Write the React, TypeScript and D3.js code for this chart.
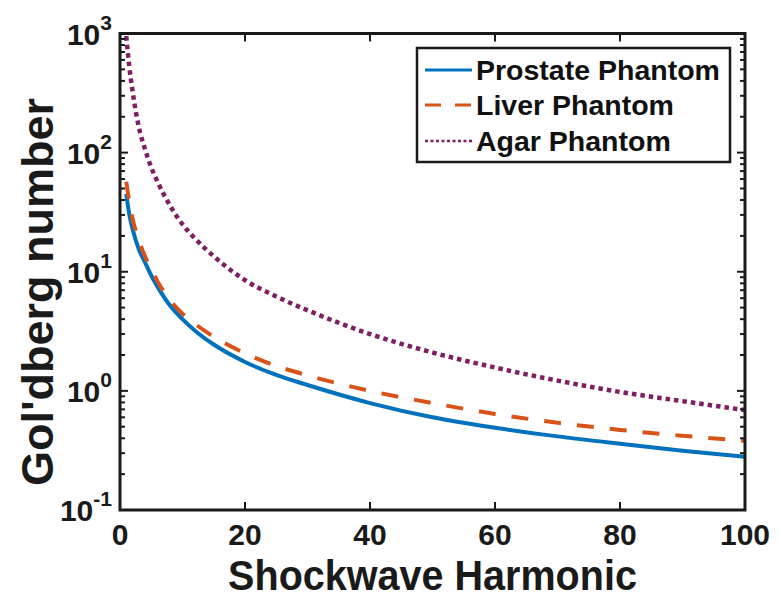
import React from "react";
import * as d3 from "d3";

const harmonics = [1, 1.5, 2, 3, 4, 5, 6, 8, 10, 12, 15, 20, 25, 30, 40, 50, 60, 70, 80, 90, 100];
const prostate = [45, 30, 23, 15.5, 12, 9.3, 7.5, 5.2, 4.0, 3.2, 2.45, 1.75, 1.36, 1.12, 0.79, 0.6, 0.49, 0.415, 0.36, 0.315, 0.28];
const liver = [57, 38, 28, 18.5, 13.5, 10.5, 8.3, 5.8, 4.45, 3.65, 2.85, 2.07, 1.62, 1.35, 1.0, 0.79, 0.64, 0.54, 0.47, 0.42, 0.38];
const agar = [950, 520, 330, 165, 107, 75, 57, 36, 25, 19, 13.5, 8.5, 6.2, 4.75, 3.0, 2.1, 1.57, 1.22, 0.98, 0.82, 0.69];

const seriesNames = ["Prostate Phantom", "Liver Phantom", "Agar Phantom"];
const seriesColors = ["#0072BD", "#D95319", "#7E1F62"];
const xTicks = [0, 20, 40, 60, 80, 100];
const yExponents = [-1, 0, 1, 2, 3];
const xLabel = "Shockwave Harmonic";
const yLabel = "Gol'dberg number";

const W = 779;
const H = 598;
const M = { left: 120, right: 745, top: 33.5, bottom: 510 };
const FONT = "'Liberation Sans', Arial, Helvetica, sans-serif";
const INK = "#1a1a1a";

export default function App() {
  const x = d3.scaleLinear().domain([0, 100]).range([M.left, M.right]);
  const y = d3.scaleLog().domain([0.1, 1000]).range([M.bottom, M.top]);
  const data = [prostate, liver, agar];
  const line = d3
    .line<[number, number]>()
    .x((d) => x(d[0]))
    .y((d) => y(d[1]))
    .curve(d3.curveMonotoneX);

  const dashes = [undefined, "17,16", "4.5,4"];
  const widths = [4, 4, 4.5];

  const minor: number[] = [];
  for (let e = -1; e < 3; e++) {
    for (let k = 2; k <= 9; k++) minor.push(k * Math.pow(10, e));
  }

  const legendX = 417;
  const legendY = 48;
  const legendW = 313;
  const legendH = 114;
  const rowY = [70, 105, 141];
  const xLabelCx = (M.left + M.right) / 2;

  return (
    <svg width={W} height={H} style={{ position: "absolute", left: 0, top: 0, background: "#fff" }}>
      <rect x={0} y={0} width={W} height={H} fill="#fff" />
      <defs>
        <clipPath id="plotclip">
          <rect x={M.left} y={M.top} width={M.right - M.left} height={M.bottom - M.top} />
        </clipPath>
      </defs>
      <g clipPath="url(#plotclip)">
        {data.map((vals, i) => (
          <path
            key={i}
            d={line(harmonics.map((h, j) => [h, vals[j]] as [number, number])) || ""}
            fill="none"
            stroke={seriesColors[i]}
            strokeWidth={widths[i]}
            strokeDasharray={dashes[i]}
            strokeLinecap="butt"
          />
        ))}
      </g>
      {xTicks.map((t) => (
        <g key={"xt" + t}>
          {t > 0 && t < 100 && (
            <>
              <line x1={x(t)} x2={x(t)} y1={M.bottom} y2={M.bottom - 8} stroke={INK} strokeWidth={2} />
              <line x1={x(t)} x2={x(t)} y1={M.top} y2={M.top + 8} stroke={INK} strokeWidth={2} />
            </>
          )}
          <text
            x={x(t)}
            y={M.bottom + 35}
            textAnchor="middle"
            fontFamily={FONT}
            fontWeight="bold"
            fontSize={30}
            fill={INK}
          >
            {t}
          </text>
        </g>
      ))}
      {yExponents.map((e) => {
        const v = Math.pow(10, e);
        return (
          <g key={"yt" + e}>
            <line x1={M.left} x2={M.left + 8} y1={y(v)} y2={y(v)} stroke={INK} strokeWidth={2} />
            <line x1={M.right} x2={M.right - 8} y1={y(v)} y2={y(v)} stroke={INK} strokeWidth={2} />
            <text
              x={M.left - 8}
              y={y(v) + 11}
              textAnchor="end"
              fontFamily={FONT}
              fontWeight="bold"
              fontSize={30}
              fill={INK}
            >
              10
              <tspan dy={-15} fontSize={21}>
                {e}
              </tspan>
            </text>
          </g>
        );
      })}
      {minor.map((v, i) => (
        <g key={"ym" + i}>
          <line x1={M.left} x2={M.left + 5} y1={y(v)} y2={y(v)} stroke={INK} strokeWidth={2} />
          <line x1={M.right} x2={M.right - 5} y1={y(v)} y2={y(v)} stroke={INK} strokeWidth={2} />
        </g>
      ))}
      <rect
        x={M.left}
        y={M.top}
        width={M.right - M.left}
        height={M.bottom - M.top}
        fill="none"
        stroke={INK}
        strokeWidth={3}
      />
      <text
        transform={`translate(${xLabelCx},590) scale(0.92,1)`}
        textAnchor="middle"
        fontFamily={FONT}
        fontWeight="bold"
        fontSize={43}
        fill={INK}
      >
        {xLabel}
      </text>
      <text
        transform={`translate(53,${292}) rotate(-90)`}
        textAnchor="middle"
        fontFamily={FONT}
        fontWeight="bold"
        fontSize={45}
        fill={INK}
      >
        {yLabel}
      </text>
      <rect x={legendX} y={legendY} width={legendW} height={legendH} fill="#fff" stroke={INK} strokeWidth={2.5} />
      {seriesNames.map((name, i) => (
        <g key={name}>
          <line
            x1={425}
            x2={472}
            y1={rowY[i]}
            y2={rowY[i]}
            stroke={seriesColors[i]}
            strokeWidth={i === 2 ? 2.5 : 3}
            strokeDasharray={i === 1 ? "16,14" : i === 2 ? "3,2.5" : undefined}
          />
          <text x={476} y={rowY[i] + 10} fontFamily={FONT} fontWeight="bold" fontSize={28.5} fill="#111">
            {name}
          </text>
        </g>
      ))}
    </svg>
  );
}
